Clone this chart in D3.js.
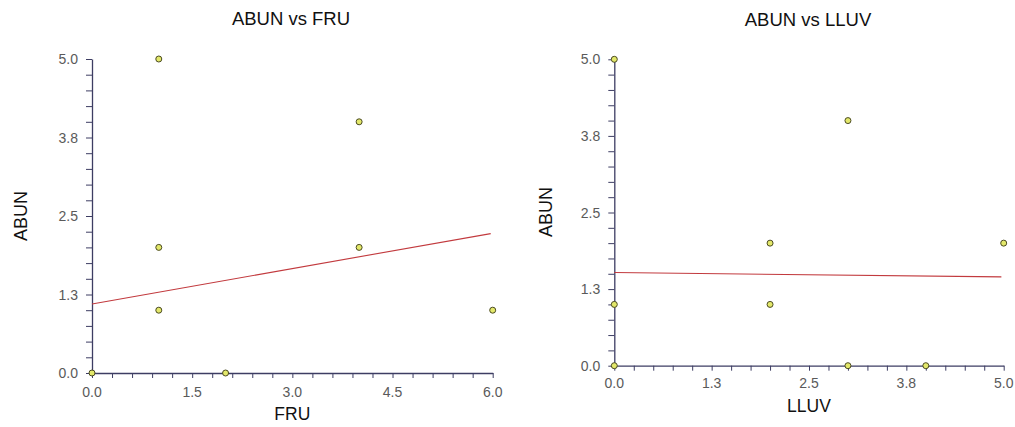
<!DOCTYPE html>
<html>
<head>
<meta charset="utf-8">
<script src="https://cdn.jsdelivr.net/npm/d3@7"></script>
<style>
  html, body { margin: 0; padding: 0; background: #ffffff; }
  svg { display: block; }
  text { font-family: "Liberation Sans", Arial, sans-serif; }
</style>
</head>
<body>
<svg id="chart" width="1015" height="427"></svg>
<script>
// ---- Data ----
const fruX = [0, 1, 1, 1, 2, 4, 4, 6];
const fruY = [0, 5, 2, 1, 0, 4, 2, 1];
const fruLineX = [0, 5.97];
const fruLineY = [1.10, 2.22];
const fruXTicks = [0, 1.5, 3.0, 4.5, 6.0];
const fruXTickLabels = ["0.0", "1.5", "3.0", "4.5", "6.0"];

const lluvX = [0, 0, 0, 2, 2, 3, 3, 4, 5];
const lluvY = [5, 1, 0, 2, 1, 4, 0, 0, 2];
const lluvLineX = [0, 4.97];
const lluvLineY = [1.52, 1.45];
const lluvXTicks = [0, 1.25, 2.5, 3.75, 5.0];
const lluvXTickLabels = ["0.0", "1.3", "2.5", "3.8", "5.0"];

const abunYTicks = [0, 1.25, 2.5, 3.75, 5.0];
const abunYTickLabels = ["0.0", "1.3", "2.5", "3.8", "5.0"];

const titles = ["ABUN vs FRU", "ABUN vs LLUV"];
const xLabels = ["FRU", "LLUV"];
const yLabel = "ABUN";

// ---- Drawing ----
const svg = d3.select("#chart");
const axisColor = "#3d3d63";
const labelColor = "#5a5a5a";

function drawPanel(opt) {
  const g = svg.append("g");
  const x = d3.scaleLinear().domain(opt.xDomain).range([opt.left, opt.right]);
  const y = d3.scaleLinear().domain([0, 5]).range([opt.bottom, opt.top]);

  // minor + major ticks
  const xMinor = d3.range(0, 21).map(i => opt.xDomain[0] + i * (opt.xDomain[1] - opt.xDomain[0]) / 20);
  const yMinor = d3.range(0, 21).map(i => i * 5 / 20);

  const xAxis = d3.axisBottom(x).tickValues(xMinor).tickSize(5).tickSizeOuter(0).tickFormat(() => "");
  const yAxis = d3.axisLeft(y).tickValues(yMinor).tickSize(6).tickSizeOuter(0).tickFormat(() => "");

  const gx = g.append("g").attr("transform", `translate(0,${opt.bottom})`).call(xAxis);
  const gy = g.append("g").attr("transform", `translate(${opt.left},0)`).call(yAxis);
  [gx, gy].forEach(a => {
    a.selectAll("path").attr("stroke", axisColor).attr("stroke-width", 1.3);
    a.selectAll("line").attr("stroke", axisColor).attr("stroke-width", 1);
  });

  // tick labels
  g.selectAll(".xl").data(opt.xTicks).enter().append("text")
    .attr("x", d => x(d)).attr("y", opt.bottom + opt.xLabelOffset)
    .attr("text-anchor", "middle").attr("font-size", 14).attr("fill", labelColor)
    .text((d, i) => opt.xTickLabels[i]);
  g.selectAll(".yl").data(abunYTicks).enter().append("text")
    .attr("x", opt.left - 14).attr("y", d => y(d) + 5)
    .attr("text-anchor", "end").attr("font-size", 14).attr("fill", labelColor)
    .text((d, i) => abunYTickLabels[i]);

  // regression line
  const line = d3.line().x(d => x(d[0])).y(d => y(d[1]));
  g.append("path").datum(opt.lineX.map((v, i) => [v, opt.lineY[i]]))
    .attr("d", line).attr("fill", "none").attr("stroke", "#c23a3e").attr("stroke-width", 1.1);

  // points
  g.selectAll(".pt").data(opt.xs.map((v, i) => [v, opt.ys[i]])).enter().append("circle")
    .attr("cx", d => x(d[0])).attr("cy", d => y(d[1])).attr("r", 3)
    .attr("fill", "#e3e86a").attr("stroke", "#4b4b22").attr("stroke-width", 1);

  // titles and axis labels
  g.append("text").attr("x", opt.titleX).attr("y", opt.titleY)
    .attr("text-anchor", "middle").attr("font-size", 18.5).attr("fill", "#111")
    .text(opt.title);
  g.append("text").attr("x", (opt.left + opt.right) / 2).attr("y", opt.xLabelY)
    .attr("text-anchor", "middle").attr("font-size", 17.5).attr("fill", "#111")
    .text(opt.xLabel);
  g.append("text")
    .attr("transform", `translate(${opt.yLabelX},${opt.yLabelCY}) rotate(-90)`)
    .attr("text-anchor", "middle").attr("font-size", 18).attr("fill", "#111")
    .text(yLabel);
}

drawPanel({
  xDomain: [0, 6], left: 92, right: 492.7, top: 59, bottom: 373,
  xTicks: fruXTicks, xTickLabels: fruXTickLabels, xLabelOffset: 24,
  xs: fruX, ys: fruY, lineX: fruLineX, lineY: fruLineY,
  title: titles[0], titleX: 291, titleY: 25,
  xLabel: xLabels[0], xLabelY: 420, yLabelX: 27, yLabelCY: 216
});

drawPanel({
  xDomain: [0, 5], left: 614.3, right: 1003.7, top: 59.3, bottom: 365.7,
  xTicks: lluvXTicks, xTickLabels: lluvXTickLabels, xLabelOffset: 22.5,
  xs: lluvX, ys: lluvY, lineX: lluvLineX, lineY: lluvLineY,
  title: titles[1], titleX: 808, titleY: 26,
  xLabel: xLabels[1], xLabelY: 411.5, yLabelX: 552, yLabelCY: 212
});
</script>
</body>
</html>
